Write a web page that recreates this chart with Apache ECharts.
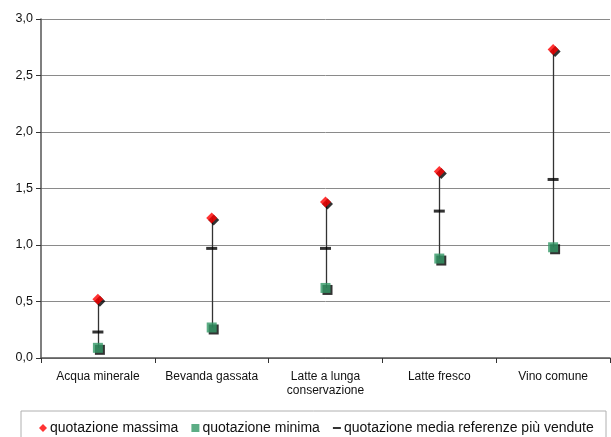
<!DOCTYPE html>
<html><head><meta charset="utf-8">
<script src="https://cdn.jsdelivr.net/npm/echarts@6/dist/echarts.min.js"></script>
<style>html,body{margin:0;padding:0;background:#fff}#c{width:611px;height:437px}</style>
</head><body><div id="c"></div>
<script>
const categories = ['Acqua minerale', 'Bevanda gassata', 'Latte a lunga\nconservazione', 'Latte fresco', 'Vino comune'];
const maxValues = [0.52, 1.24, 1.38, 1.65, 2.73];
const minValues = [0.09, 0.27, 0.62, 0.88, 0.98];
const meanValues = [0.23, 0.97, 0.97, 1.30, 1.58];
const seriesNames = ['quotazione massima', 'quotazione minima', 'quotazione media referenze più vendute'];
const yTicks = { min: 0, max: 3, interval: 0.5 };

const font = 'Liberation Sans, Arial, sans-serif';
const shadow = { shadowColor: '#000', shadowBlur: 0, shadowOffsetX: 2, shadowOffsetY: 2 };
const chart = echarts.init(document.getElementById('c'));
chart.setOption({
  animation: false,
  backgroundColor: '#fff',
  grid: { left: 41, right: 1, top: 19, bottom: 79, containLabel: false },
  xAxis: {
    type: 'category', data: categories, boundaryGap: true,
    axisLine: { lineStyle: { color: '#555', width: 1.5 } },
    axisTick: { show: true, length: 5, inside: false, lineStyle: { color: '#333' } },
    axisLabel: { color: '#111', fontFamily: font, fontSize: 12, margin: 12, lineHeight: 14, interval: 0 }
  },
  yAxis: {
    type: 'value', min: yTicks.min, max: yTicks.max, interval: yTicks.interval,
    axisLine: { show: true, lineStyle: { color: '#555', width: 1.5 } },
    axisTick: { show: true, length: 5, lineStyle: { color: '#333' } },
    axisLabel: { color: '#111', fontFamily: font, fontSize: 12.5, margin: 8,
      formatter: v => v.toFixed(1).replace('.', ',') },
    splitLine: { lineStyle: { color: '#8a8a8a', width: 1 } }
  },
  legend: {
    top: 416, left: 34, itemWidth: 8, itemHeight: 8, itemGap: 13,
    textStyle: { color: '#111', fontFamily: font, fontSize: 14, padding: [0, 0, 0, -2] },
    data: [
      { name: seriesNames[0], icon: 'diamond' },
      { name: seriesNames[1], icon: 'rect' },
      { name: seriesNames[2], icon: 'path://M0,0 L10,0 L10,2.5 L0,2.5 Z' }
    ]
  },
  graphic: [{ type: 'rect', shape: { x: 21, y: 411, width: 585, height: 40 },
    style: { fill: 'none', stroke: '#b0b0b0', lineWidth: 1 }, silent: true }],
  series: [
    {
      type: 'custom', name: 'range', z: 1,
      data: categories.map((c, i) => [i, minValues[i], maxValues[i]]),
      renderItem: (params, api) => {
        const lo = api.coord([api.value(0), api.value(1)]);
        const hi = api.coord([api.value(0), api.value(2)]);
        return { type: 'line', shape: { x1: Math.round(lo[0]) + 0.5, y1: lo[1], x2: Math.round(hi[0]) + 0.5, y2: hi[1] },
          style: { stroke: '#333', lineWidth: 1.3 } };
      }
    },
    { type: 'scatter', name: seriesNames[2], z: 3, symbol: 'rect', symbolSize: [11, 3],
      data: meanValues, itemStyle: { color: '#000' } },
    { type: 'scatter', name: seriesNames[1], z: 4, symbol: 'rect', symbolSize: 10,
      data: minValues, itemStyle: Object.assign({ color: '#339966' }, shadow) },
    { type: 'scatter', name: seriesNames[0], z: 5, symbol: 'diamond', symbolSize: [11, 11],
      data: maxValues, itemStyle: Object.assign({ color: '#ff0000' }, shadow) }
  ]
});
</script></body></html>
